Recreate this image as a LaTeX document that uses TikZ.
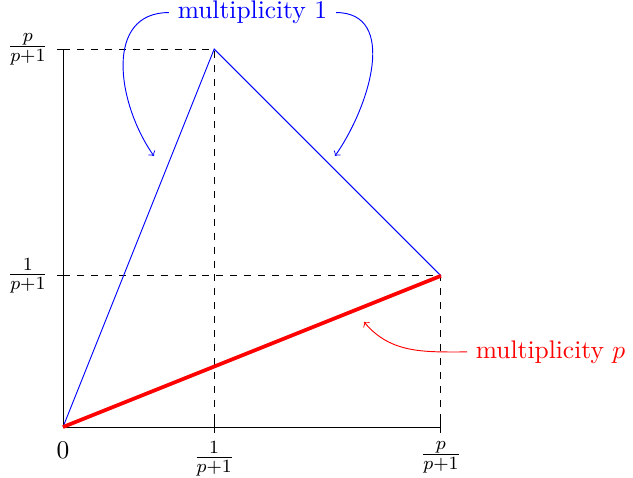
\documentclass[tikz,border=0pt,11pt]{standalone}
\begin{document}
\begin{tikzpicture}[x=8cm,y=8cm,
  guide/.style={dashed},
  curve/.style={blue},
  mult/.style={red, ultra thick},
  pointer/.style={->}]
\useasboundingbox (-27.1pt,-21.9pt) rectangle (245.2pt,183.7pt);
\coordinate (O) at (0,0);
\coordinate (A) at (0.285714,0.714286);
\coordinate (B) at (0.714286,0.285714);
\coordinate (Xa) at (0.285714,0);
\coordinate (Xb) at (0.714286,0);
\coordinate (Ya) at (0,0.285714);
\coordinate (Yb) at (0,0.714286);
% guides
\draw[guide] (Yb) -- (A) -- (Xa);
\draw[guide] (Ya) -- (B) -- (Xb);
% axes
\draw (Yb) -- (O) -- (Xb);
\foreach \p in {Xa,Xb} \draw ([yshift=2.5pt]\p) -- ([yshift=-2.5pt]\p);
\foreach \p in {Ya,Yb} \draw ([xshift=2.5pt]\p) -- ([xshift=-2.5pt]\p);
% labels
\node[below] (l0) at ([yshift=-2.5pt]O) {$0$};
\node[below] (lxa) at ([yshift=-2.5pt]Xa) {$\frac{1}{p+1}$};
\node[below] (lxb) at ([yshift=-2.5pt]Xb) {$\frac{p}{p+1}$};
\node[left] (lya) at ([xshift=-2.5pt]Ya) {$\frac{1}{p+1}$};
\node[left] (lyb) at ([xshift=-2.5pt]Yb) {$\frac{p}{p+1}$};
% graphs
\draw[curve] (O) -- (A) -- (B);
\draw[mult] (O) -- (B);
% annotations
\node[blue] (m1) at (81.5pt,178.3pt) {multiplicity 1};
\node[red, anchor=west] (mp) at (173.8pt,32.3pt) {multiplicity $p$};
\coordinate (t1) at (39.1pt,116.6pt);
\coordinate (t2) at (117pt,116.6pt);
\coordinate (t3) at (129.5pt,45.2pt);
\draw[pointer, blue] (m1.west) to[out=180,in=125,looseness=1.15] (t1);
\draw[pointer, blue] (m1.east) to[out=0,in=55,looseness=1.1] (t2);
\draw[pointer, red] (mp.west) to[out=180,in=-50] (t3);
\end{tikzpicture}
\end{document}
